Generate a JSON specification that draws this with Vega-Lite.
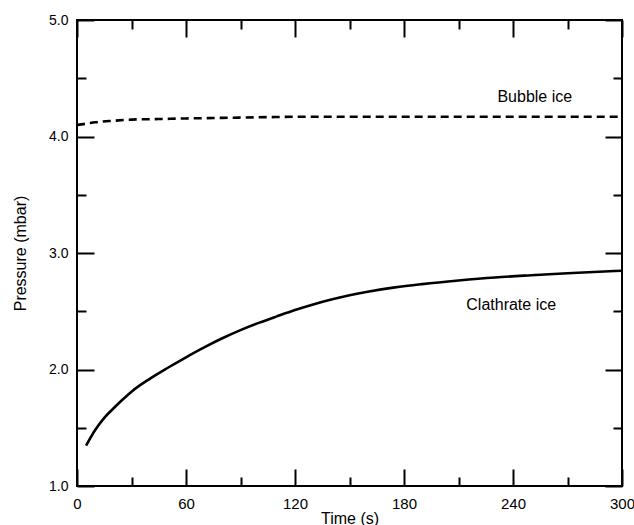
{
  "$schema": "https://vega.github.io/schema/vega-lite/v6.json",
  "width": 545,
  "height": 466,
  "autosize": {"type": "none"},
  "padding": {"left": 77, "top": 20, "right": 12, "bottom": 39},
  "background": "white",
  "config": {
    "view": {"stroke": "black", "strokeWidth": 2},
    "font": "Liberation Sans"
  },
  "datasets": {
    "clathrate": [
      {"t": 5, "p": 1.346}, {"t": 10, "p": 1.48}, {"t": 15, "p": 1.585}, {"t": 20, "p": 1.665},
      {"t": 25, "p": 1.74}, {"t": 30, "p": 1.81}, {"t": 40, "p": 1.92}, {"t": 50, "p": 2.015},
      {"t": 60, "p": 2.105}, {"t": 70, "p": 2.19}, {"t": 80, "p": 2.268}, {"t": 90, "p": 2.338},
      {"t": 100, "p": 2.4}, {"t": 110, "p": 2.456}, {"t": 120, "p": 2.51}, {"t": 130, "p": 2.558},
      {"t": 140, "p": 2.6}, {"t": 150, "p": 2.637}, {"t": 160, "p": 2.668}, {"t": 175, "p": 2.705},
      {"t": 190, "p": 2.733}, {"t": 210, "p": 2.764}, {"t": 230, "p": 2.79}, {"t": 250, "p": 2.809},
      {"t": 270, "p": 2.826}, {"t": 300, "p": 2.848}
    ],
    "bubble": [
      {"t": 0, "p": 4.1}, {"t": 5, "p": 4.11}, {"t": 10, "p": 4.122}, {"t": 20, "p": 4.135},
      {"t": 30, "p": 4.145}, {"t": 45, "p": 4.15}, {"t": 60, "p": 4.155}, {"t": 80, "p": 4.16},
      {"t": 100, "p": 4.165}, {"t": 130, "p": 4.17}, {"t": 160, "p": 4.17}, {"t": 200, "p": 4.17},
      {"t": 250, "p": 4.17}, {"t": 300, "p": 4.17}
    ],
    "labels": [
      {"t": 252, "p": 4.34, "label": "Bubble ice"},
      {"t": 239, "p": 2.555, "label": "Clathrate ice"}
    ]
  },
  "layer": [
    {
      "data": {"name": "clathrate"},
      "mark": {"type": "line", "color": "black", "strokeWidth": 2.6, "interpolate": "monotone", "clip": true},
      "encoding": {
        "x": {
          "field": "t", "type": "quantitative",
          "scale": {"domain": [0, 300], "nice": false, "zero": false},
          "axis": {
            "orient": "bottom",
            "values": [0, 30, 60, 90, 120, 150, 180, 210, 240, 270, 300],
            "labelExpr": "datum.value % 60 === 0 ? datum.label : ''",
            "tickSize": {"condition": {"test": "datum.value % 60 === 0", "value": -17}, "value": -9},
            "labelPadding": 27,
            "labelFlush": false,
            "labelOverlap": false,
            "tickWidth": 2,
            "tickColor": "black",
            "domain": false,
            "grid": false,
            "labelFont": "Liberation Sans",
            "labelFontSize": 15,
            "labelColor": "black",
            "title": "Time (s)",
            "titleFont": "Liberation Sans",
            "titleFontSize": 16,
            "titleFontWeight": "normal",
            "titleColor": "black",
            "titlePadding": -9
          }
        },
        "y": {
          "field": "p", "type": "quantitative",
          "scale": {"domain": [1, 5], "nice": false, "zero": false},
          "axis": {
            "orient": "left",
            "values": [1, 1.5, 2, 2.5, 3, 3.5, 4, 4.5, 5],
            "labelExpr": "datum.value % 1 === 0 ? format(datum.value, '.1f') : ''",
            "tickSize": {"condition": {"test": "datum.value % 1 === 0", "value": -17}, "value": -9},
            "labelPadding": 26,
            "labelFlush": false,
            "labelOverlap": false,
            "tickWidth": 2,
            "tickColor": "black",
            "domain": false,
            "grid": false,
            "labelFont": "Liberation Sans",
            "labelFontSize": 14,
            "labelColor": "black",
            "title": "Pressure (mbar)",
            "titleFont": "Liberation Sans",
            "titleFontSize": 16,
            "titleFontWeight": "normal",
            "titleColor": "black",
            "titlePadding": 20
          }
        }
      }
    },
    {
      "data": {"name": "bubble"},
      "mark": {"type": "line", "color": "black", "strokeWidth": 2.6, "strokeDash": [8, 5], "interpolate": "monotone", "clip": true},
      "encoding": {
        "x": {
          "field": "t", "type": "quantitative",
          "scale": {"domain": [0, 300], "nice": false, "zero": false},
          "axis": {
            "orient": "top",
            "values": [0, 30, 60, 90, 120, 150, 180, 210, 240, 270, 300],
            "labels": false,
            "tickSize": {"condition": {"test": "datum.value % 60 === 0", "value": -17}, "value": -9},
            "tickWidth": 2,
            "tickColor": "black",
            "domain": false,
            "grid": false,
            "title": null
          }
        },
        "y": {
          "field": "p", "type": "quantitative",
          "scale": {"domain": [1, 5], "nice": false, "zero": false},
          "axis": {
            "orient": "right",
            "values": [1, 1.5, 2, 2.5, 3, 3.5, 4, 4.5, 5],
            "labels": false,
            "tickSize": {"condition": {"test": "datum.value % 1 === 0", "value": -17}, "value": -9},
            "tickWidth": 2,
            "tickColor": "black",
            "domain": false,
            "grid": false,
            "title": null
          }
        }
      }
    },
    {
      "data": {"name": "labels"},
      "mark": {"type": "text", "font": "Liberation Sans", "fontSize": 16, "color": "black", "align": "center", "baseline": "middle"},
      "encoding": {
        "x": {"field": "t", "type": "quantitative", "axis": null},
        "y": {"field": "p", "type": "quantitative", "axis": null},
        "text": {"field": "label"}
      }
    }
  ]
}
